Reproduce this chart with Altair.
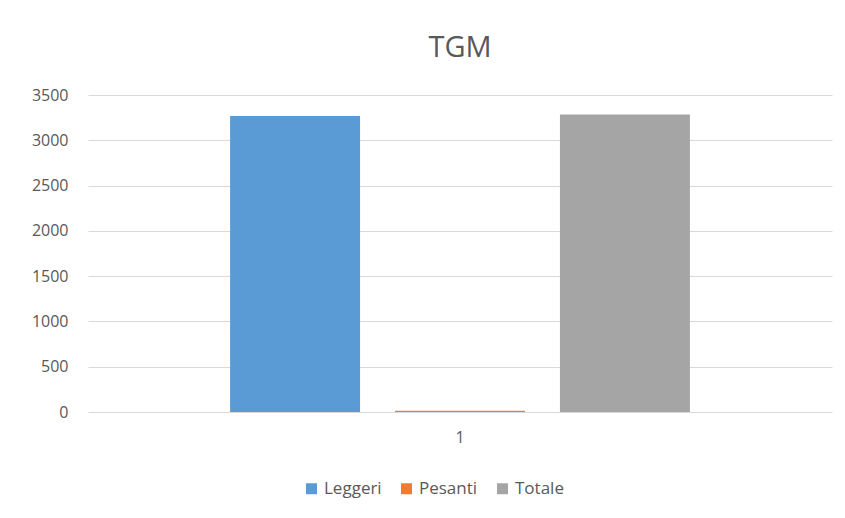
import altair as alt
import pandas as pd

categories = ["1", "1", "1"]
series = ["Leggeri", "Pesanti", "Totale"]
values = [3267, 15, 3285]
colors = ["#5b9bd5", "#ed7d31", "#a5a5a5"]

df = pd.DataFrame({"cat": categories, "serie": series, "val": values})

FONT = "Open Sans"
TXT = "#595959"

chart = alt.Chart(df).mark_bar().encode(
    x=alt.X("cat:N", title=None,
            scale=alt.Scale(paddingInner=0, paddingOuter=0.309),
            axis=alt.Axis(labelAngle=0, ticks=False, domain=False,
                          labelPadding=17, labelFontSize=16, labelColor=TXT,
                          labelFont=FONT)),
    xOffset=alt.XOffset("serie:N", sort=series,
                        scale=alt.Scale(paddingInner=0.212, paddingOuter=0)),
    y=alt.Y("val:Q", title=None,
            scale=alt.Scale(domain=[0, 3500]),
            axis=alt.Axis(values=[0, 500, 1000, 1500, 2000, 2500, 3000, 3500],
                          format="d",
                          domain=False, ticks=False, labelPadding=20,
                          labelFontSize=16, labelColor=TXT, labelFont=FONT,
                          gridColor="#d9d9d9", gridWidth=1)),
    color=alt.Color("serie:N", sort=series,
                    scale=alt.Scale(domain=series, range=colors),
                    legend=alt.Legend(title=None, orient="none", direction="horizontal",
                                      legendX=215, legendY=385,
                                      symbolType="square", symbolSize=121,
                                      symbolStrokeWidth=0,
                                      labelFontSize=17, labelColor=TXT,
                                      labelFont=FONT, columnPadding=16,
                                      symbolOffset=0, labelOffset=4)),
).properties(
    width=744,
    height=317,
    title=alt.TitleParams("TGM", fontSize=29, font=FONT, color=TXT,
                          fontWeight="normal", offset=24, anchor="middle"),
    autosize=alt.AutoSizeParams(type="none"),
    padding={"left": 88, "top": 95, "right": 13, "bottom": 106},
).configure(background="white").configure_view(stroke=None, strokeWidth=0)

chart.save("out.html", embed_options={"renderer": "svg", "actions": False})
